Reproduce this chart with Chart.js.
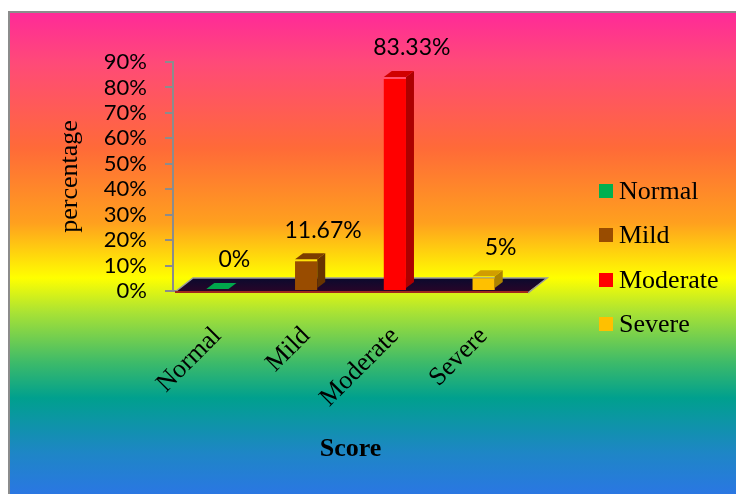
<!DOCTYPE html>
<html>
<head>
<meta charset="utf-8">
<script src="https://cdn.jsdelivr.net/npm/chart.js@4.4.1/dist/chart.umd.min.js"></script>
<style>
  html, body { margin: 0; padding: 0; background: #fff; overflow: hidden; }
  #frame {
    position: absolute; left: 8px; top: 11px; width: 740px; height: 500px;
    border: 2px solid #8c8c8c;
    background: linear-gradient(to bottom,
      #ff2a98 0%, #ff4a78 10%, #ff6a38 27%, #ffa01e 42%, #ffff00 53%,
      #a8e235 60%, #3cba6a 70%, #00a08e 77%, #1e86c6 88%, #3070f0 100%);
  }
  #chart { position: absolute; left: 0; top: 0; }
  #legend { position: absolute; left: 599px; top: 169px; font-family: "Liberation Serif", "Times New Roman", serif; font-size: 26px; }
  .legend-item { display: flex; align-items: center; height: 44.3px; }
  .legend-item i { display: inline-block; width: 14px; height: 14px; margin-right: 6px; }
</style>
</head>
<body>
<div id="frame"></div>
<canvas id="chart" width="736" height="494"></canvas>
<div id="legend"></div>
<script>
const categories = ['Normal', 'Mild', 'Moderate', 'Severe'];
const percentValues = [0, 11.67, 83.33, 5];
const valueLabels = ['0%', '11.67%', '83.33%', '5%'];
const barColors = ['#00b050', '#994c00', '#ff0000', '#ffc000'];
const yTicks = [0, 10, 20, 30, 40, 50, 60, 70, 80, 90];

const DEPTH_X = 8;
const DEPTH_Y = 6;

function shade(hex, f) {
  const n = parseInt(hex.slice(1), 16);
  const r = Math.round(((n >> 16) & 255) * f);
  const g = Math.round(((n >> 8) & 255) * f);
  const b = Math.round((n & 255) * f);
  return `rgb(${r},${g},${b})`;
}

const floorPlugin = {
  id: 'floor',
  beforeDatasetsDraw(chart) {
    const { ctx, chartArea } = chart;
    const l = chartArea.left + 2;
    const r = chartArea.right;
    const b = chartArea.bottom + 1;
    ctx.save();
    const grad = ctx.createLinearGradient(0, b - 14, 0, b);
    grad.addColorStop(0, '#0a0a2e');
    grad.addColorStop(1, '#2a0428');
    ctx.fillStyle = grad;
    ctx.beginPath();
    ctx.moveTo(l, b);
    ctx.lineTo(r, b);
    ctx.lineTo(r + 19, b - 14);
    ctx.lineTo(l + 18, b - 14);
    ctx.closePath();
    ctx.fill();
    ctx.strokeStyle = '#9a9a9a';
    ctx.lineWidth = 1.5;
    ctx.beginPath();
    ctx.moveTo(l, b);
    ctx.lineTo(l + 18, b - 14);
    ctx.lineTo(r + 19, b - 14);
    ctx.lineTo(r, b + 1);
    ctx.stroke();
    ctx.strokeStyle = '#a0281e';
    ctx.lineWidth = 2;
    ctx.beginPath();
    ctx.moveTo(l, b);
    ctx.lineTo(r, b);
    ctx.stroke();
    ctx.restore();
  },
  afterDatasetsDraw(chart) {
    const { ctx } = chart;
    const meta = chart.getDatasetMeta(0);
    ctx.save();
    meta.data.forEach((bar, i) => {
      const color = barColors[i];
      const left = bar.x - bar.width / 2;
      const right = bar.x + bar.width / 2;
      const top = bar.y - 2;
      const base = bar.base - 2;
      ctx.fillStyle = shade(color, 0.68);
      ctx.beginPath();
      ctx.moveTo(right, top);
      ctx.lineTo(right + DEPTH_X, top - DEPTH_Y);
      ctx.lineTo(right + DEPTH_X, base - DEPTH_Y);
      ctx.lineTo(right, base);
      ctx.closePath();
      ctx.fill();
      ctx.fillStyle = shade(color, percentValues[i] === 0 ? 0.95 : 0.82);
      ctx.beginPath();
      ctx.moveTo(left, top);
      ctx.lineTo(left + DEPTH_X, top - DEPTH_Y);
      ctx.lineTo(right + DEPTH_X, top - DEPTH_Y);
      ctx.lineTo(right, top);
      ctx.closePath();
      ctx.fill();

      ctx.fillStyle = '#000';
      ctx.font = '23px Lato';
      ctx.textAlign = 'center';
      ctx.textBaseline = 'middle';
      ctx.fillText(valueLabels[i], bar.x + 17, bar.y - 31);
    });
    ctx.restore();
  },
};

const legend = document.getElementById('legend');
legend.innerHTML = categories
  .map((name, i) => `<div class="legend-item"><i style="background:${barColors[i]}"></i>${name}</div>`)
  .join('');

new Chart(document.getElementById('chart'), {
  type: 'bar',
  data: {
    labels: categories,
    datasets: [
      {
        data: percentValues,
        backgroundColor: barColors,
        borderWidth: 0,
        categoryPercentage: 1,
        barPercentage: 0.25,
      },
    ],
  },
  options: {
    responsive: false,
    animation: false,
    layout: { padding: { top: 62, right: 208, bottom: 0, left: 0 } },
    plugins: {
      legend: { display: false },
      tooltip: { enabled: false },
    },
    scales: {
      x: {
        grid: { display: false },
        border: { display: true, color: '#8c8c8c', width: 2 },
        ticks: {
          color: '#000',
          font: { family: 'Liberation Serif', size: 26 },
          minRotation: 45,
          maxRotation: 45,
          autoSkip: false,
          padding: 22,
        },
        title: {
          display: true,
          text: 'Score',
          color: '#000',
          font: { family: 'Liberation Serif', size: 26, weight: 'bold' },
          padding: { top: 0, bottom: 29 },
        },
        afterFit(scale) { scale.height = 203; },
      },
      y: {
        min: 0,
        max: 90,
        afterBuildTicks(scale) { scale.ticks = yTicks.map((v) => ({ value: v })); },
        grid: { drawOnChartArea: false, drawTicks: true, tickLength: 8, color: '#8c8c8c', lineWidth: 2 },
        border: { display: true, color: '#8c8c8c', width: 2 },
        ticks: {
          color: '#000',
          font: { family: 'Lato', size: 22, lineHeight: 1 },
          padding: 18,
          autoSkip: false,
          callback: (v) => `${v}%`,
        },
        title: {
          display: true,
          text: 'percentage',
          color: '#000',
          font: { family: 'Liberation Serif', size: 26 },
          padding: { top: 55, bottom: 0 },
        },
        afterFit(scale) { scale.width = 173; },
      },
    },
  },
  plugins: [floorPlugin],
});
</script>
</body>
</html>
